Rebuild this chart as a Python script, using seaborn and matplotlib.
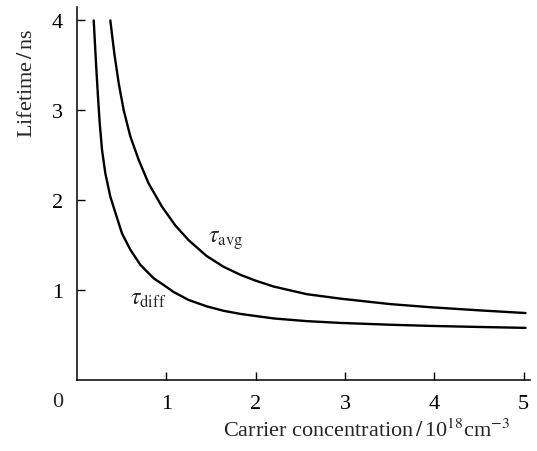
import matplotlib
matplotlib.use("Agg")
import matplotlib.pyplot as plt
import seaborn as sns
import pandas as pd

# data
x_diff = [0.187, 0.213, 0.235, 0.254, 0.28, 0.317, 0.373, 0.43, 0.504, 0.597, 0.71,
          0.86, 0.98, 1.08, 1.25, 1.45, 1.64, 1.83, 2.20, 2.57, 2.95, 3.5, 3.95, 4.5, 5.02]
y_diff = [4.00, 3.52, 3.15, 2.86, 2.56, 2.30, 2.04, 1.86, 1.63, 1.45, 1.28,
          1.13, 1.05, 0.98, 0.89, 0.82, 0.77, 0.735, 0.685, 0.655, 0.635, 0.615, 0.602, 0.59, 0.58]
x_avg = [0.373, 0.418, 0.467, 0.523, 0.597, 0.69, 0.80, 0.95, 1.10, 1.25, 1.45,
         1.64, 1.83, 2.00, 2.20, 2.57, 2.95, 3.5, 3.95, 4.5, 5.02]
y_avg = [4.00, 3.63, 3.30, 3.00, 2.71, 2.45, 2.19, 1.93, 1.72, 1.555, 1.38,
         1.26, 1.17, 1.105, 1.04, 0.955, 0.905, 0.845, 0.81, 0.775, 0.745]
x_ticks = [1, 2, 3, 4, 5]
y_ticks = [1, 2, 3, 4]

sns.set_theme(style="ticks")
plt.rcParams['font.family'] = ['Liberation Serif', 'DejaVu Serif']
plt.rcParams['mathtext.fontset'] = 'stix'

df = pd.concat([
    pd.DataFrame({"x": x_diff, "y": y_diff, "s": "diff"}),
    pd.DataFrame({"x": x_avg, "y": y_avg, "s": "avg"}),
])

fig = plt.figure(figsize=(5.37, 4.52), dpi=100)
ax = fig.add_axes([77/537, 1-381/452, (530-77)/537, (381-8)/452])

sns.lineplot(data=df, x="x", y="y", units="s", estimator=None, color="black",
             linewidth=1.7, ax=ax, sort=False, legend=False)

ax.set_xlim(0, 5.07)
ax.set_ylim(0, 4.15)
ax.set_xticks(x_ticks)
ax.set_yticks(y_ticks)
ax.set_xticklabels([str(v) for v in x_ticks])
ax.set_yticklabels([str(v) for v in y_ticks])
ax.tick_params(axis='both', direction='in', length=6, width=1, labelsize=16, colors='black')
ax.tick_params(axis='x', pad=10)
ax.tick_params(axis='y', pad=10)
ax.set_xlabel('')
ax.set_ylabel('')
for sp in ['top', 'right']:
    ax.spines[sp].set_visible(False)
for sp in ['left', 'bottom']:
    ax.spines[sp].set_linewidth(1.1)
    ax.spines[sp].set_color('black')

fig.text(367/537, 1-431/452, r'Carrier concentration$\,/\,$10$^{18}$cm$^{-3}$',
         fontsize=16, ha='center', va='center')
fig.text(27/537, 1-83/452, r'Lifetime$\,/\,$ns', fontsize=16, ha='center', va='center',
         rotation=90)
fig.text(58/537, 1-403/452, '0', fontsize=16, ha='center', va='center')

ax.text(1.66, 1.56, r'$\tau_{\rm avg}$', fontsize=17, ha='center', va='center')
ax.text(0.80, 0.91, r'$\tau_{\rm diff}$', fontsize=17, ha='center', va='center')

fig.savefig("out.png", dpi=100, facecolor='white')
